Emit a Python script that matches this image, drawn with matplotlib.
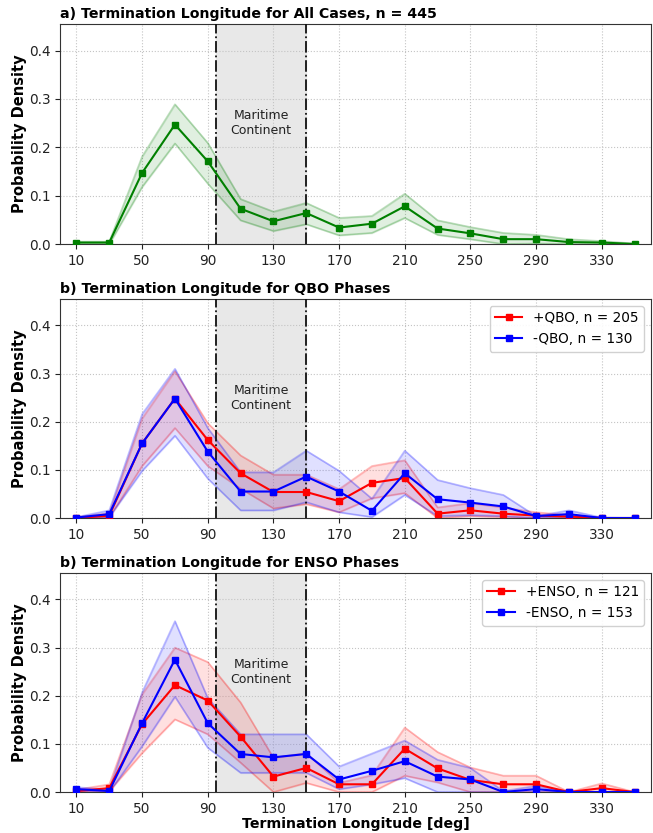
import numpy as np
import matplotlib
matplotlib.use("Agg")
import matplotlib.pyplot as plt

lons = [10, 30, 50, 70, 90, 110, 130, 150, 170, 190, 210, 230, 250, 270, 290, 310, 330, 350]
xticks = [10, 50, 90, 130, 170, 210, 250, 290, 330]

# Panel a: all cases
all_mean = [0.003, 0.003, 0.147, 0.247, 0.171, 0.073, 0.047, 0.064, 0.034, 0.042, 0.078, 0.032, 0.022, 0.010, 0.010, 0.004, 0.003, 0.0]
all_hi   = [0.005, 0.005, 0.181, 0.289, 0.209, 0.093, 0.067, 0.085, 0.054, 0.058, 0.104, 0.049, 0.035, 0.023, 0.019, 0.010, 0.006, 0.001]
all_lo   = [0.0, 0.0, 0.118, 0.208, 0.125, 0.049, 0.027, 0.041, 0.018, 0.023, 0.054, 0.019, 0.010, 0.0, 0.001, 0.0, 0.0, 0.0]

# Panel b: QBO phases
qp_mean = [0.0, 0.005, 0.155, 0.248, 0.162, 0.093, 0.054, 0.054, 0.035, 0.073, 0.083, 0.009, 0.016, 0.009, 0.005, 0.003, 0.0, 0.0]
qp_hi   = [0.002, 0.010, 0.207, 0.305, 0.197, 0.130, 0.090, 0.090, 0.060, 0.108, 0.120, 0.022, 0.031, 0.022, 0.012, 0.006, 0.0, 0.0]
qp_lo   = [0.0, 0.001, 0.108, 0.187, 0.108, 0.061, 0.020, 0.029, 0.012, 0.041, 0.052, 0.0, 0.004, 0.002, 0.0, 0.0, 0.0, 0.0]
qm_mean = [0.001, 0.008, 0.155, 0.248, 0.138, 0.055, 0.055, 0.086, 0.055, 0.015, 0.093, 0.039, 0.032, 0.024, 0.004, 0.008, 0.0, 0.0]
qm_hi   = [0.002, 0.016, 0.216, 0.310, 0.187, 0.095, 0.095, 0.140, 0.098, 0.040, 0.140, 0.079, 0.062, 0.048, 0.004, 0.016, 0.001, 0.0]
qm_lo   = [0.0, 0.002, 0.098, 0.171, 0.082, 0.016, 0.016, 0.033, 0.012, 0.002, 0.048, 0.004, 0.006, 0.004, 0.0, 0.001, 0.0, 0.0]

# Panel c: ENSO phases
ep_mean = [0.002, 0.008, 0.141, 0.222, 0.190, 0.115, 0.032, 0.050, 0.016, 0.016, 0.090, 0.049, 0.025, 0.016, 0.016, 0.0, 0.008, 0.0]
ep_hi   = [0.005, 0.016, 0.203, 0.300, 0.270, 0.186, 0.071, 0.081, 0.019, 0.035, 0.134, 0.083, 0.051, 0.034, 0.034, 0.0, 0.018, 0.0]
ep_lo   = [0.0, 0.002, 0.081, 0.151, 0.120, 0.061, 0.0, 0.019, 0.0, 0.0, 0.034, 0.020, 0.0, 0.0, 0.0, 0.0, 0.0, 0.0]
em_mean = [0.006, 0.002, 0.143, 0.275, 0.143, 0.079, 0.072, 0.079, 0.026, 0.044, 0.064, 0.032, 0.026, 0.0, 0.006, 0.0, 0.0, 0.0]
em_hi   = [0.010, 0.005, 0.207, 0.355, 0.195, 0.120, 0.120, 0.120, 0.053, 0.080, 0.107, 0.067, 0.050, 0.002, 0.013, 0.0, 0.0, 0.0]
em_lo   = [0.0, 0.0, 0.095, 0.198, 0.092, 0.040, 0.040, 0.040, 0.006, 0.016, 0.029, 0.0, 0.0, 0.0, 0.0, 0.0, 0.0, 0.0]

titles = ["a) Termination Longitude for All Cases, n = 445",
          "b) Termination Longitude for QBO Phases",
          "b) Termination Longitude for ENSO Phases"]

W, H = 653, 833
fig = plt.figure(figsize=(W/100, H/100), dpi=100)

def ax_at(top, bottom, left=60, right=651):
    return fig.add_axes([left/W, 1-bottom/H, (right-left)/W, (bottom-top)/H])

axes = [ax_at(24, 244), ax_at(299, 518), ax_at(573, 792)]

def series(ax, mean, lo, hi, color, label=None):
    ax.fill_between(lons, lo, hi, color=color, alpha=0.12, linewidth=1.2, zorder=2)
    ax.plot(lons, lo, color=color, alpha=0.22, lw=1.2, zorder=2)
    ax.plot(lons, hi, color=color, alpha=0.22, lw=1.2, zorder=2)
    ax.plot(lons, mean, color=color, marker='s', markersize=5, lw=1.5, label=label, zorder=4)

for i, ax in enumerate(axes):
    ax.axvspan(95, 150, color='#e8e8e8', zorder=0)
    ax.axvline(95, color='#111111', ls='-.', lw=1.3, zorder=3)
    ax.axvline(150, color='#111111', ls='-.', lw=1.3, zorder=3)
    ax.text(122.5, 0.25, "Maritime\nContinent", ha='center', va='center', fontsize=9, color='#222222', zorder=5)
    ax.set_xlim(0, 360)
    ax.set_ylim(0, 0.455)
    ax.set_xticks(xticks)
    ax.set_yticks([0.0, 0.1, 0.2, 0.3, 0.4])
    ax.set_yticklabels(["0.0", "0.1", "0.2", "0.3", "0.4"])
    ax.grid(True, ls=':', color='#c4c4c4', lw=0.8, zorder=1)
    ax.set_axisbelow(True)
    ax.tick_params(labelsize=9.8, colors='#222222', length=3.5)
    for s in ax.spines.values():
        s.set_color('#333333')
    ax.set_title(titles[i], loc='left', fontsize=10.2, fontweight='bold', pad=4)
    ax.set_ylabel("Probability Density", fontsize=10.5, fontweight='bold', labelpad=1)

series(axes[0], all_mean, all_lo, all_hi, 'green')

series(axes[1], qp_mean, qp_lo, qp_hi, 'red', "+QBO, n = 205")
series(axes[1], qm_mean, qm_lo, qm_hi, 'blue', "-QBO, n = 130")
axes[1].legend(loc='upper right', fontsize=9.8, framealpha=0.9)

series(axes[2], ep_mean, ep_lo, ep_hi, 'red', "+ENSO, n = 121")
series(axes[2], em_mean, em_lo, em_hi, 'blue', "-ENSO, n = 153")
axes[2].legend(loc='upper right', fontsize=9.8, framealpha=0.9)
axes[2].set_xlabel("Termination Longitude [deg]", fontsize=10.2, fontweight='bold', labelpad=1)

fig.savefig("out.png", dpi=100)
